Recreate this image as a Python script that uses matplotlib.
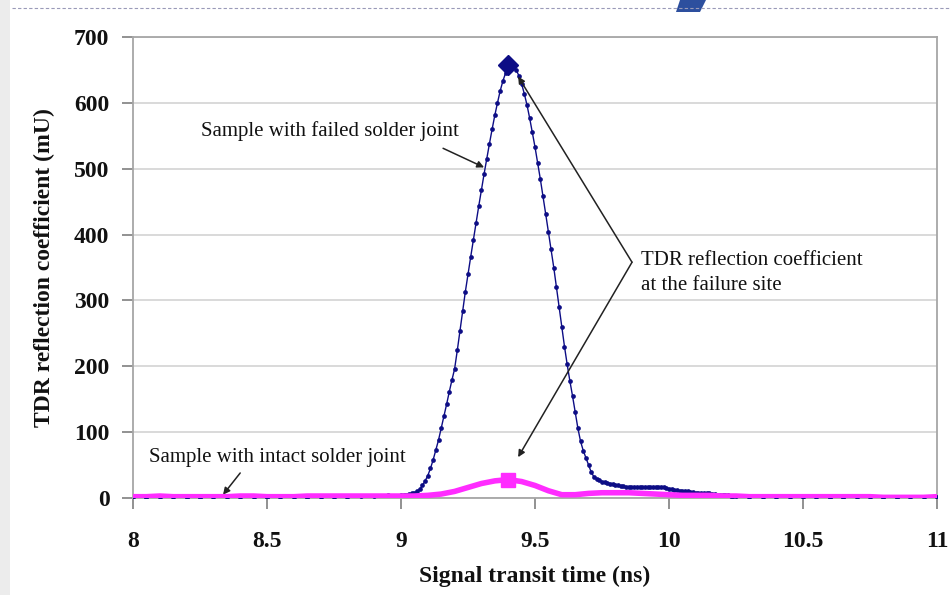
import numpy as np
import matplotlib
matplotlib.use("Agg")
import matplotlib.pyplot as plt
from matplotlib.patches import Polygon, Rectangle
from matplotlib.lines import Line2D

# ---------------- data ----------------
# Failed solder joint: baseline before the peak (0.05 ns step)
failed_pre_t = [8.00, 8.05, 8.10, 8.15, 8.20, 8.25, 8.30, 8.35, 8.40, 8.45,
                8.50, 8.55, 8.60, 8.65, 8.70, 8.75, 8.80, 8.85, 8.90, 8.95]
failed_pre_v = [1, 0, 1, 1, 0, 0, 1, 1, 2, 1,
                0, 1, 1, 0, 1, 2, 2, 3, 3, 4]

# Failed solder joint: main reflection region 9.00 .. 10.25 ns (0.01 ns step)
failed_peak_start = 9.00
failed_peak_step = 0.01
failed_peak_v = [
    4, 4, 5, 6, 7, 8, 10, 13, 19, 26,                # 9.00-9.09
    34, 45, 58, 73, 88, 106, 124, 142, 161, 179,     # 9.10-9.19
    196, 224, 254, 284, 313, 340, 366, 392, 418, 443,  # 9.20-9.29
    468, 492, 515, 538, 560, 581, 600, 618, 633, 645,  # 9.30-9.39
    654, 658, 656, 650, 641, 629, 614, 597, 577, 555,  # 9.40-9.49
    533, 509, 484, 458, 431, 404, 378, 350, 320, 290,  # 9.50-9.59
    259, 230, 203, 178, 155, 130, 106, 86, 72, 61,     # 9.60-9.69
    50, 39, 32, 29, 27, 25, 24, 23, 22, 21,            # 9.70-9.79
    20, 19, 18, 18, 17, 17, 17, 17, 17, 17,            # 9.80-9.89
    17, 17, 17, 17, 17, 17, 16, 16, 16, 15,            # 9.90-9.99
    14, 13, 12, 12, 11, 11, 10, 10, 9, 9,              # 10.00-10.09
    8, 8, 8, 7, 7, 7, 6, 6, 5, 5,                      # 10.10-10.19
    5, 4, 4, 3, 3, 3,                                  # 10.20-10.25
]

# Failed solder joint: baseline after the peak (0.05 ns step)
failed_post_t = [10.30, 10.35, 10.40, 10.45, 10.50, 10.55, 10.60, 10.65,
                 10.70, 10.75, 10.80, 10.85, 10.90, 10.95, 11.00]
failed_post_v = [2, 2, 1, 1, 1, 1, 0, 0, 1, 1, 0, 0, 1, 1, 2]

# Intact solder joint (0.05 ns step)
intact_t = [8.00, 8.05, 8.10, 8.15, 8.20, 8.25, 8.30, 8.35, 8.40, 8.45,
            8.50, 8.55, 8.60, 8.65, 8.70, 8.75, 8.80, 8.85, 8.90, 8.95,
            9.00, 9.05, 9.10, 9.15, 9.20, 9.25, 9.30, 9.35, 9.40, 9.45,
            9.50, 9.55, 9.60, 9.65, 9.70, 9.75, 9.80, 9.85, 9.90, 9.95,
            10.00, 10.05, 10.10, 10.15, 10.20, 10.25, 10.30, 10.35, 10.40, 10.45,
            10.50, 10.55, 10.60, 10.65, 10.70, 10.75, 10.80, 10.85, 10.90, 10.95,
            11.00]
intact_v = [2, 2, 3, 2, 2, 2, 2, 2, 3, 3,
            2, 2, 2, 3, 3, 3, 3, 3, 3, 3,
            3, 3, 4, 6, 10, 16, 22, 26, 28, 25,
            19, 11, 5, 5, 7, 8, 8, 8, 7, 6,
            5, 4, 4, 4, 3, 3, 2, 2, 2, 2,
            2, 2, 2, 2, 2, 2, 1, 1, 1, 1,
            2]

# highlighted points at the failure site
site_t = [9.40]
site_failed_v = [657]
site_intact_v = [28]

x_ticks = [8, 8.5, 9, 9.5, 10, 10.5, 11]
x_ticklabels = ["8", "8.5", "9", "9.5", "10", "10.5", "11"]
y_ticks = [0, 100, 200, 300, 400, 500, 600, 700]

# ---------------- figure ----------------
plt.rcParams['font.family'] = ['Liberation Serif', 'DejaVu Serif']

fig = plt.figure(figsize=(9.5, 5.95), dpi=100)
fig.patch.set_facecolor('white')

# slide decorations
fig.patches.append(Rectangle((0, 0), 10 / 950, 1, transform=fig.transFigure,
                             facecolor='#ececec', edgecolor='none', zorder=0))
fig.lines.append(Line2D([12 / 950, 1], [1 - 8 / 595, 1 - 8 / 595],
                        transform=fig.transFigure, color='#9a9ab8', lw=0.8,
                        linestyle=(0, (3, 2))))
fig.patches.append(Polygon([(680 / 950, 1), (706 / 950, 1), (700 / 950, 1 - 12 / 595),
                            (676 / 950, 1 - 12 / 595)], closed=True,
                           transform=fig.transFigure, facecolor='#2d4f9e',
                           edgecolor='none'))

ax = fig.add_axes([133 / 950, 1 - 498 / 595, (937 - 133) / 950, (498 - 37) / 595])

failed_peak_t = [round(failed_peak_start + i * failed_peak_step, 2)
                 for i in range(len(failed_peak_v))]
failed_t = failed_pre_t + failed_peak_t + failed_post_t
failed_v = failed_pre_v + failed_peak_v + failed_post_v

navy = '#0d0d85'
magenta = '#ff2cff'

ax.plot(failed_t, failed_v, color=navy, lw=1.0, marker='o', ms=3.4,
        markeredgewidth=0, zorder=3)
ax.plot(intact_t, intact_v, color=magenta, lw=4.0, solid_capstyle='round',
        solid_joinstyle='round', zorder=4)
ax.plot(site_t, site_failed_v, marker='D', ms=10, color=navy, zorder=5,
        linestyle='none')
ax.plot(site_t, site_intact_v, marker='s', ms=10, color=magenta, zorder=5,
        linestyle='none')

ax.set_xlim(8, 11)
ax.set_ylim(0, 700)
ax.set_xticks(x_ticks)
ax.set_xticklabels(x_ticklabels)
ax.set_yticks(y_ticks)

for sp in ax.spines.values():
    sp.set_color('#a6a6a6')
    sp.set_linewidth(1.3)

ax.yaxis.grid(True, color='#d9d9d9', lw=1.4)
ax.set_axisbelow(True)

ax.tick_params(axis='both', colors='#7f7f7f', length=8, width=1.2, direction='out')
ax.tick_params(axis='x', pad=16, labelcolor='#111111', labelsize=17)
ax.tick_params(axis='y', pad=9, labelcolor='#111111', labelsize=17)
for lab in ax.get_xticklabels() + ax.get_yticklabels():
    lab.set_fontweight('bold')

ax.set_xlabel('Signal transit time (ns)', fontsize=17, fontweight='bold',
              color='#111111', labelpad=10)
ax.set_ylabel('TDR reflection coefficient (mU)', fontsize=17, fontweight='bold',
              color='#111111', labelpad=14)

arrow_kw = dict(arrowstyle='-|>', color='#222222', lw=1.1, mutation_scale=10,
                shrinkA=0, shrinkB=0)

ax.annotate('', xy=(9.31, 502), xytext=(9.157, 531), arrowprops=arrow_kw)
ax.text(8.735, 557, 'Sample with failed solder joint', fontsize=15,
        ha='center', va='center', color='#111111')

ax.annotate('', xy=(9.437, 640), xytext=(9.862, 358), arrowprops=arrow_kw)
ax.annotate('', xy=(9.437, 62), xytext=(9.862, 358), arrowprops=arrow_kw)
ax.text(9.895, 342, 'TDR reflection coefficient\nat the failure site', fontsize=15,
        ha='left', va='center', color='#111111', linespacing=1.45)

ax.annotate('', xy=(8.336, 5), xytext=(8.40, 38), arrowprops=arrow_kw)
ax.text(8.537, 61, 'Sample with intact solder joint', fontsize=15,
        ha='center', va='center', color='#111111')

fig.savefig('out.png', dpi=100, facecolor=fig.get_facecolor())
